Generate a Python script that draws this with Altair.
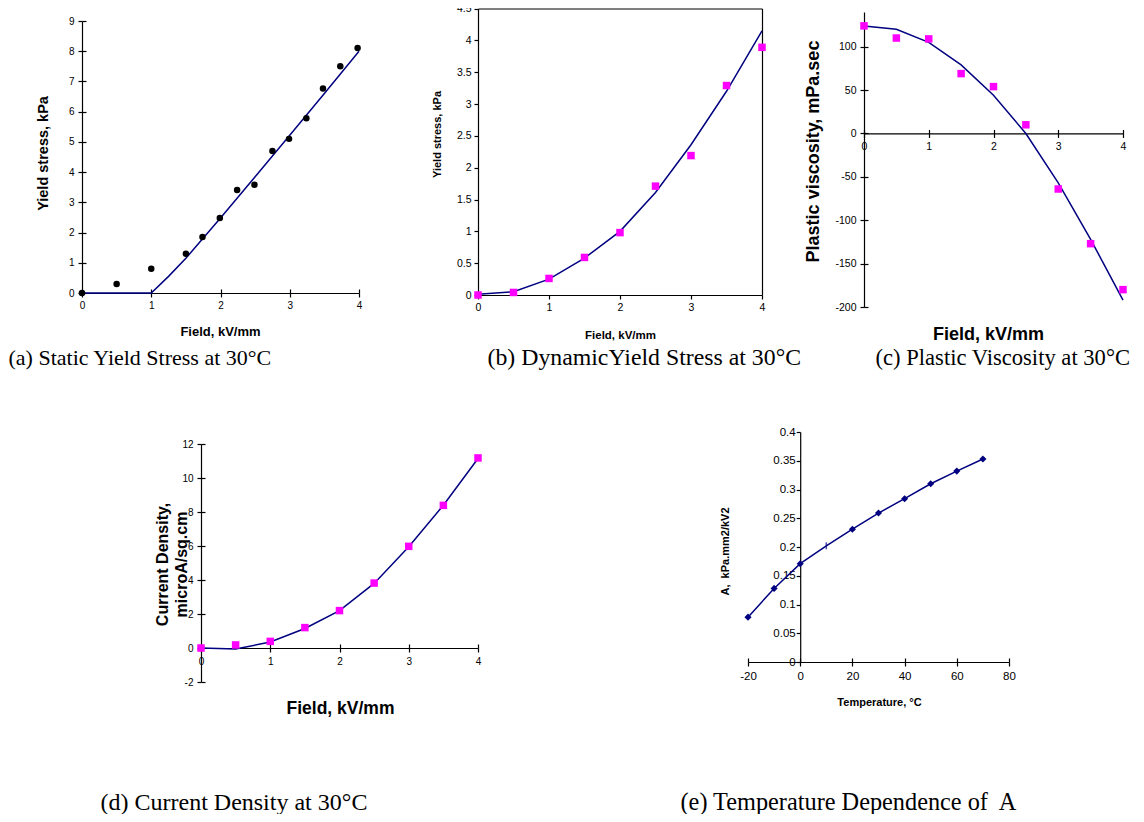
import altair as alt
import pandas as pd

W, H = 1128, 806

# ---------------- data ----------------
# (a) static yield stress
a_pts_x = [0, 0.5, 1.0, 1.5, 1.74, 1.99, 2.24, 2.49, 2.75, 2.99, 3.24, 3.48, 3.73, 3.98]
a_pts_y = [0, 0.3, 0.8, 1.3, 1.85, 2.48, 3.41, 3.58, 4.70, 5.10, 5.78, 6.77, 7.50, 8.11]
a_fit_x = [0, 1.0, 1.25, 1.5, 2.0, 2.5, 3.0, 3.5, 4.0]
a_fit_y = [0, 0, 0.55, 1.15, 2.48, 3.85, 5.22, 6.6, 8.0]

# (b) dynamic yield stress
b_x = [0, 0.5, 1.0, 1.5, 2.0, 2.5, 3.0, 3.5, 4.0]
b_pts_y = [0, 0.04, 0.26, 0.59, 0.98, 1.71, 2.19, 3.29, 3.89]
b_fit_y = [0.01, 0.05, 0.25, 0.58, 1.0, 1.61, 2.36, 3.2, 4.15]

# (c) plastic viscosity
c_x = [0, 0.5, 1.0, 1.5, 2.0, 2.5, 3.0, 3.5, 4.0]
c_pts_y = [124, 110, 109, 69, 54, 10, -64, -127, -180]
c_fit_y = [124, 120, 105, 79, 44, 0, -57, -122, -192]

# (d) current density
d_x = [0, 0.5, 1.0, 1.5, 2.0, 2.5, 3.0, 3.5, 4.0]
d_pts_y = [0, 0.18, 0.39, 1.2, 2.2, 3.82, 5.98, 8.39, 11.18]
d_fit_y = [0, -0.06, 0.35, 1.15, 2.2, 3.8, 5.95, 8.4, 11.15]

# (e) temperature dependence of A
e_x = [-20, -10, 0, 10, 20, 30, 40, 50, 60, 70]
e_y = [0.078, 0.128, 0.171, 0.202, 0.231, 0.259, 0.284, 0.310, 0.332, 0.353]

# tick labels
a_xticks = [0, 1, 2, 3, 4]
a_yticks = [0, 1, 2, 3, 4, 5, 6, 7, 8, 9]
b_yticks = [0, 0.5, 1, 1.5, 2, 2.5, 3, 3.5, 4, 4.5]
c_yticks = [-200, -150, -100, -50, 0, 50, 100]
d_yticks = [-2, 0, 2, 4, 6, 8, 10, 12]
e_xticks = [-20, 0, 20, 40, 60, 80]
e_yticks = [0, 0.05, 0.1, 0.15, 0.2, 0.25, 0.3, 0.35, 0.4]

captions = [
    "(a) Static Yield Stress at 30°C",
    "(b) DynamicYield Stress at 30°C",
    "(c) Plastic Viscosity at 30°C",
    "(d) Current Density at 30°C",
    "(e) Temperature Dependence of\u00a0 A",
]

FONT = "Liberation Sans"
SERIF = "Liberation Serif"
NAVY = "#000080"
MAGENTA = "#FF00FF"


def ax(**kw):
    base = dict(grid=False, domainColor="black", tickColor="black", labelColor="black",
                titleColor="black", labelFont=FONT, titleFont=FONT, titleFontWeight="bold",
                domainWidth=1.2, tickWidth=1.2, labelExpr="'' + datum.value",
                labelFlush=False, labelOverlap=False, titleLimit=1000)
    base.update(kw)
    return alt.Axis(**base)


def helper_x(y_axis, values, ticks=True, domain=False, caption=None, cap_x=0, cap_y=0,
             cap_size=22):
    kw = dict(orient="top", offset=-y_axis, values=values, labels=False, domain=domain,
              ticks=ticks, tickSize=4)
    if caption is not None:
        kw.update(title=caption, titleX=cap_x, titleY=cap_y - y_axis, titleAlign="left",
                  titleBaseline="alphabetic", titleAngle=0, titleFont=SERIF,
                  titleFontWeight="normal", titleFontSize=cap_size)
    else:
        kw.update(title=None)
    return ax(**kw)


def helper_y(x_axis, values, ticks=True, domain=False):
    return ax(orient="right", offset=x_axis - W, values=values, labels=False,
              domain=domain, ticks=ticks, tickSize=4, title=None)


def panel(line_df, pts_df, pts_mark, xdom, xr, ydom, yr, xa, ya, xh, yh, extra=()):
    xs = alt.Scale(domain=xdom, range=xr, nice=False, zero=False)
    ys = alt.Scale(domain=ydom, range=yr, nice=False, zero=False)
    line = alt.Chart(line_df).mark_line(color=NAVY, strokeWidth=1.5).encode(
        x=alt.X("x:Q", scale=xs, axis=xa),
        y=alt.Y("y:Q", scale=ys, axis=ya),
    )
    pts = pts_mark.encode(
        x=alt.X("x:Q", scale=xs, axis=xh),
        y=alt.Y("y:Q", scale=ys, axis=yh),
    )
    layers = [line, pts]
    for e in extra:
        layers.append(e.encode(x=alt.X("x:Q", scale=xs, axis=None),
                               y=alt.Y("y:Q", scale=ys, axis=None)))
    return alt.layer(*layers).resolve_axis(x="independent", y="independent")


# ---------------- panel (a) ----------------
a_line = pd.DataFrame({"x": a_fit_x, "y": a_fit_y})
a_pts = pd.DataFrame({"x": a_pts_x, "y": a_pts_y})
AY0, AX0 = 285, 74
pa = panel(
    a_line, a_pts,
    alt.Chart(a_pts).mark_circle(color="black", size=42, opacity=1),
    [0, 4], [AX0, 351], [0, 9], [AY0, 13],
    ax(orient="bottom", offset=AY0 - H, values=a_xticks, tickSize=4, labelFontSize=10,
       labelPadding=3, title="Field, kV/mm", titleFontSize=13, titleX=212, titleY=38,
       titleBaseline="middle", titleAlign="center"),
    ax(orient="left", offset=-AX0, values=a_yticks, tickSize=4, labelFontSize=10,
       labelPadding=4, title="Yield stress, kPa", titleFontSize=14.5, titleX=-39,
       titleY=145, titleAngle=270, titleBaseline="middle", titleAlign="center"),
    helper_x(AY0, a_xticks, caption=captions[0], cap_x=0, cap_y=356, cap_size=22),
    helper_y(AX0, a_yticks),
)

# ---------------- panel (b) ----------------
b_line = pd.DataFrame({"x": b_x, "y": b_fit_y})
b_pts = pd.DataFrame({"x": b_x, "y": b_pts_y})
BY0, BX0, BX1, BYT = 287, 470, 754, 0.5
pb = panel(
    b_line, b_pts,
    alt.Chart(b_pts).mark_square(color=MAGENTA, size=56, opacity=1),
    [0, 4], [BX0, BX1], [0, 4.5], [BY0, BYT],
    ax(orient="bottom", offset=BY0 - H, values=a_xticks, tickSize=4, labelFontSize=10.5,
       labelPadding=3, title="Field, kV/mm", titleFontSize=11.5, titleX=612, titleY=40,
       titleBaseline="middle", titleAlign="center"),
    ax(orient="left", offset=-BX0, values=b_yticks, tickSize=4, labelFontSize=10.5,
       labelPadding=3, title="Yield stress, kPa", titleFontSize=11, titleX=-41,
       titleY=126, titleAngle=270, titleBaseline="middle", titleAlign="center"),
    helper_x(BYT, a_xticks, ticks=False, domain=True, caption=captions[1], cap_x=479,
             cap_y=356, cap_size=23.8),
    helper_y(BX1, b_yticks, ticks=False, domain=True),
)

# ---------------- panel (c) ----------------
c_line = pd.DataFrame({"x": c_x, "y": c_fit_y})
c_pts = pd.DataFrame({"x": c_x, "y": c_pts_y})
CX0 = 856
CYB, CYT = 299, 4
CY0 = CYB - (0 + 200) / 340 * (CYB - CYT)
pc = panel(
    c_line, c_pts,
    alt.Chart(c_pts).mark_square(color=MAGENTA, size=56, opacity=1),
    [0, 4], [CX0, 1115], [-200, 140], [CYB, CYT],
    ax(orient="bottom", offset=CY0 - H, values=a_xticks, tickSize=4, labelFontSize=10.5,
       labelPadding=4, title="Field, kV/mm", titleFontSize=18, titleX=980,
       titleY=326 - CY0, titleBaseline="middle", titleAlign="center"),
    ax(orient="left", offset=-CX0, values=c_yticks, tickSize=4, labelFontSize=10.5,
       labelPadding=4, title="Plastic viscosity, mPa.sec", titleFontSize=18, titleX=-51,
       titleY=143, titleAngle=270, titleBaseline="middle", titleAlign="center"),
    helper_x(CY0, a_xticks, caption=captions[2], cap_x=867, cap_y=356, cap_size=22.6),
    helper_y(CX0, c_yticks),
)

# ---------------- panel (d) ----------------
d_line = pd.DataFrame({"x": d_x, "y": d_fit_y})
d_pts = pd.DataFrame({"x": d_x, "y": d_pts_y})
DX0 = 193
DYB, DYT = 674, 436
DY0 = DYB - 2 / 14 * (DYB - DYT)
pd_ = panel(
    d_line, d_pts,
    alt.Chart(d_pts).mark_square(color=MAGENTA, size=56, opacity=1),
    [0, 4], [DX0, 470], [-2, 12], [DYB, DYT],
    ax(orient="bottom", offset=DY0 - H, values=a_xticks, tickSize=4, labelFontSize=10,
       labelPadding=4, title="Field, kV/mm", titleFontSize=17.5, titleX=332,
       titleY=700 - DY0, titleBaseline="middle", titleAlign="center"),
    ax(orient="left", offset=-DX0, values=d_yticks, tickSize=4, labelFontSize=10,
       labelPadding=4, title=["Current Density,", "microA/sq.cm"], titleFontSize=16,
       titleLineHeight=19, titleX=-39, titleY=556, titleAngle=270,
       titleBaseline="middle", titleAlign="center"),
    helper_x(DY0, a_xticks, caption=captions[3], cap_x=92, cap_y=801, cap_size=24),
    helper_y(DX0, d_yticks),
)

# ---------------- panel (e) ----------------
e_df = pd.DataFrame({"x": e_x, "y": e_y})
EX0, EX1 = 740, 1001
EYB, EYT = 654, 424
EXZ = EX0 + 20 / 100 * (EX1 - EX0)
pe = panel(
    e_df, e_df,
    alt.Chart(e_df).transform_filter(alt.datum.x != 10).mark_point(
        shape="diamond", filled=True, color=NAVY, size=50, opacity=1),
    [-20, 80], [EX0, EX1], [0, 0.4], [EYB, EYT],
    ax(orient="bottom", offset=EYB - H, values=e_xticks, tickSize=4, labelFontSize=11.5,
       labelPadding=4, title="Temperature, °C", titleFontSize=11, titleX=871,
       titleY=694 - EYB, titleBaseline="middle", titleAlign="center"),
    ax(orient="left", offset=-EXZ, values=e_yticks, tickSize=4, labelFontSize=11.5,
       labelPadding=1, title="A,\u00a0 kPa.mm2/kV2", titleFontSize=11, titleX=717 - EXZ,
       titleY=543, titleAngle=270, titleBaseline="middle", titleAlign="center"),
    helper_x(EYB, e_xticks, caption=captions[4], cap_x=672, cap_y=801, cap_size=24.3),
    None,
    extra=[alt.Chart(e_df).transform_filter(alt.datum.x == 10).mark_tick(
        orient="vertical", color=NAVY, size=7, thickness=1.5)],
)

chart = alt.layer(pa, pb, pc, pd_, pe).resolve_scale(
    x="independent", y="independent"
).properties(
    width=W, height=H, padding=0, autosize=alt.AutoSizeParams(type="none")
).configure_view(stroke=None)

chart.save("out.html", embed_options={"renderer": "svg", "actions": False})
